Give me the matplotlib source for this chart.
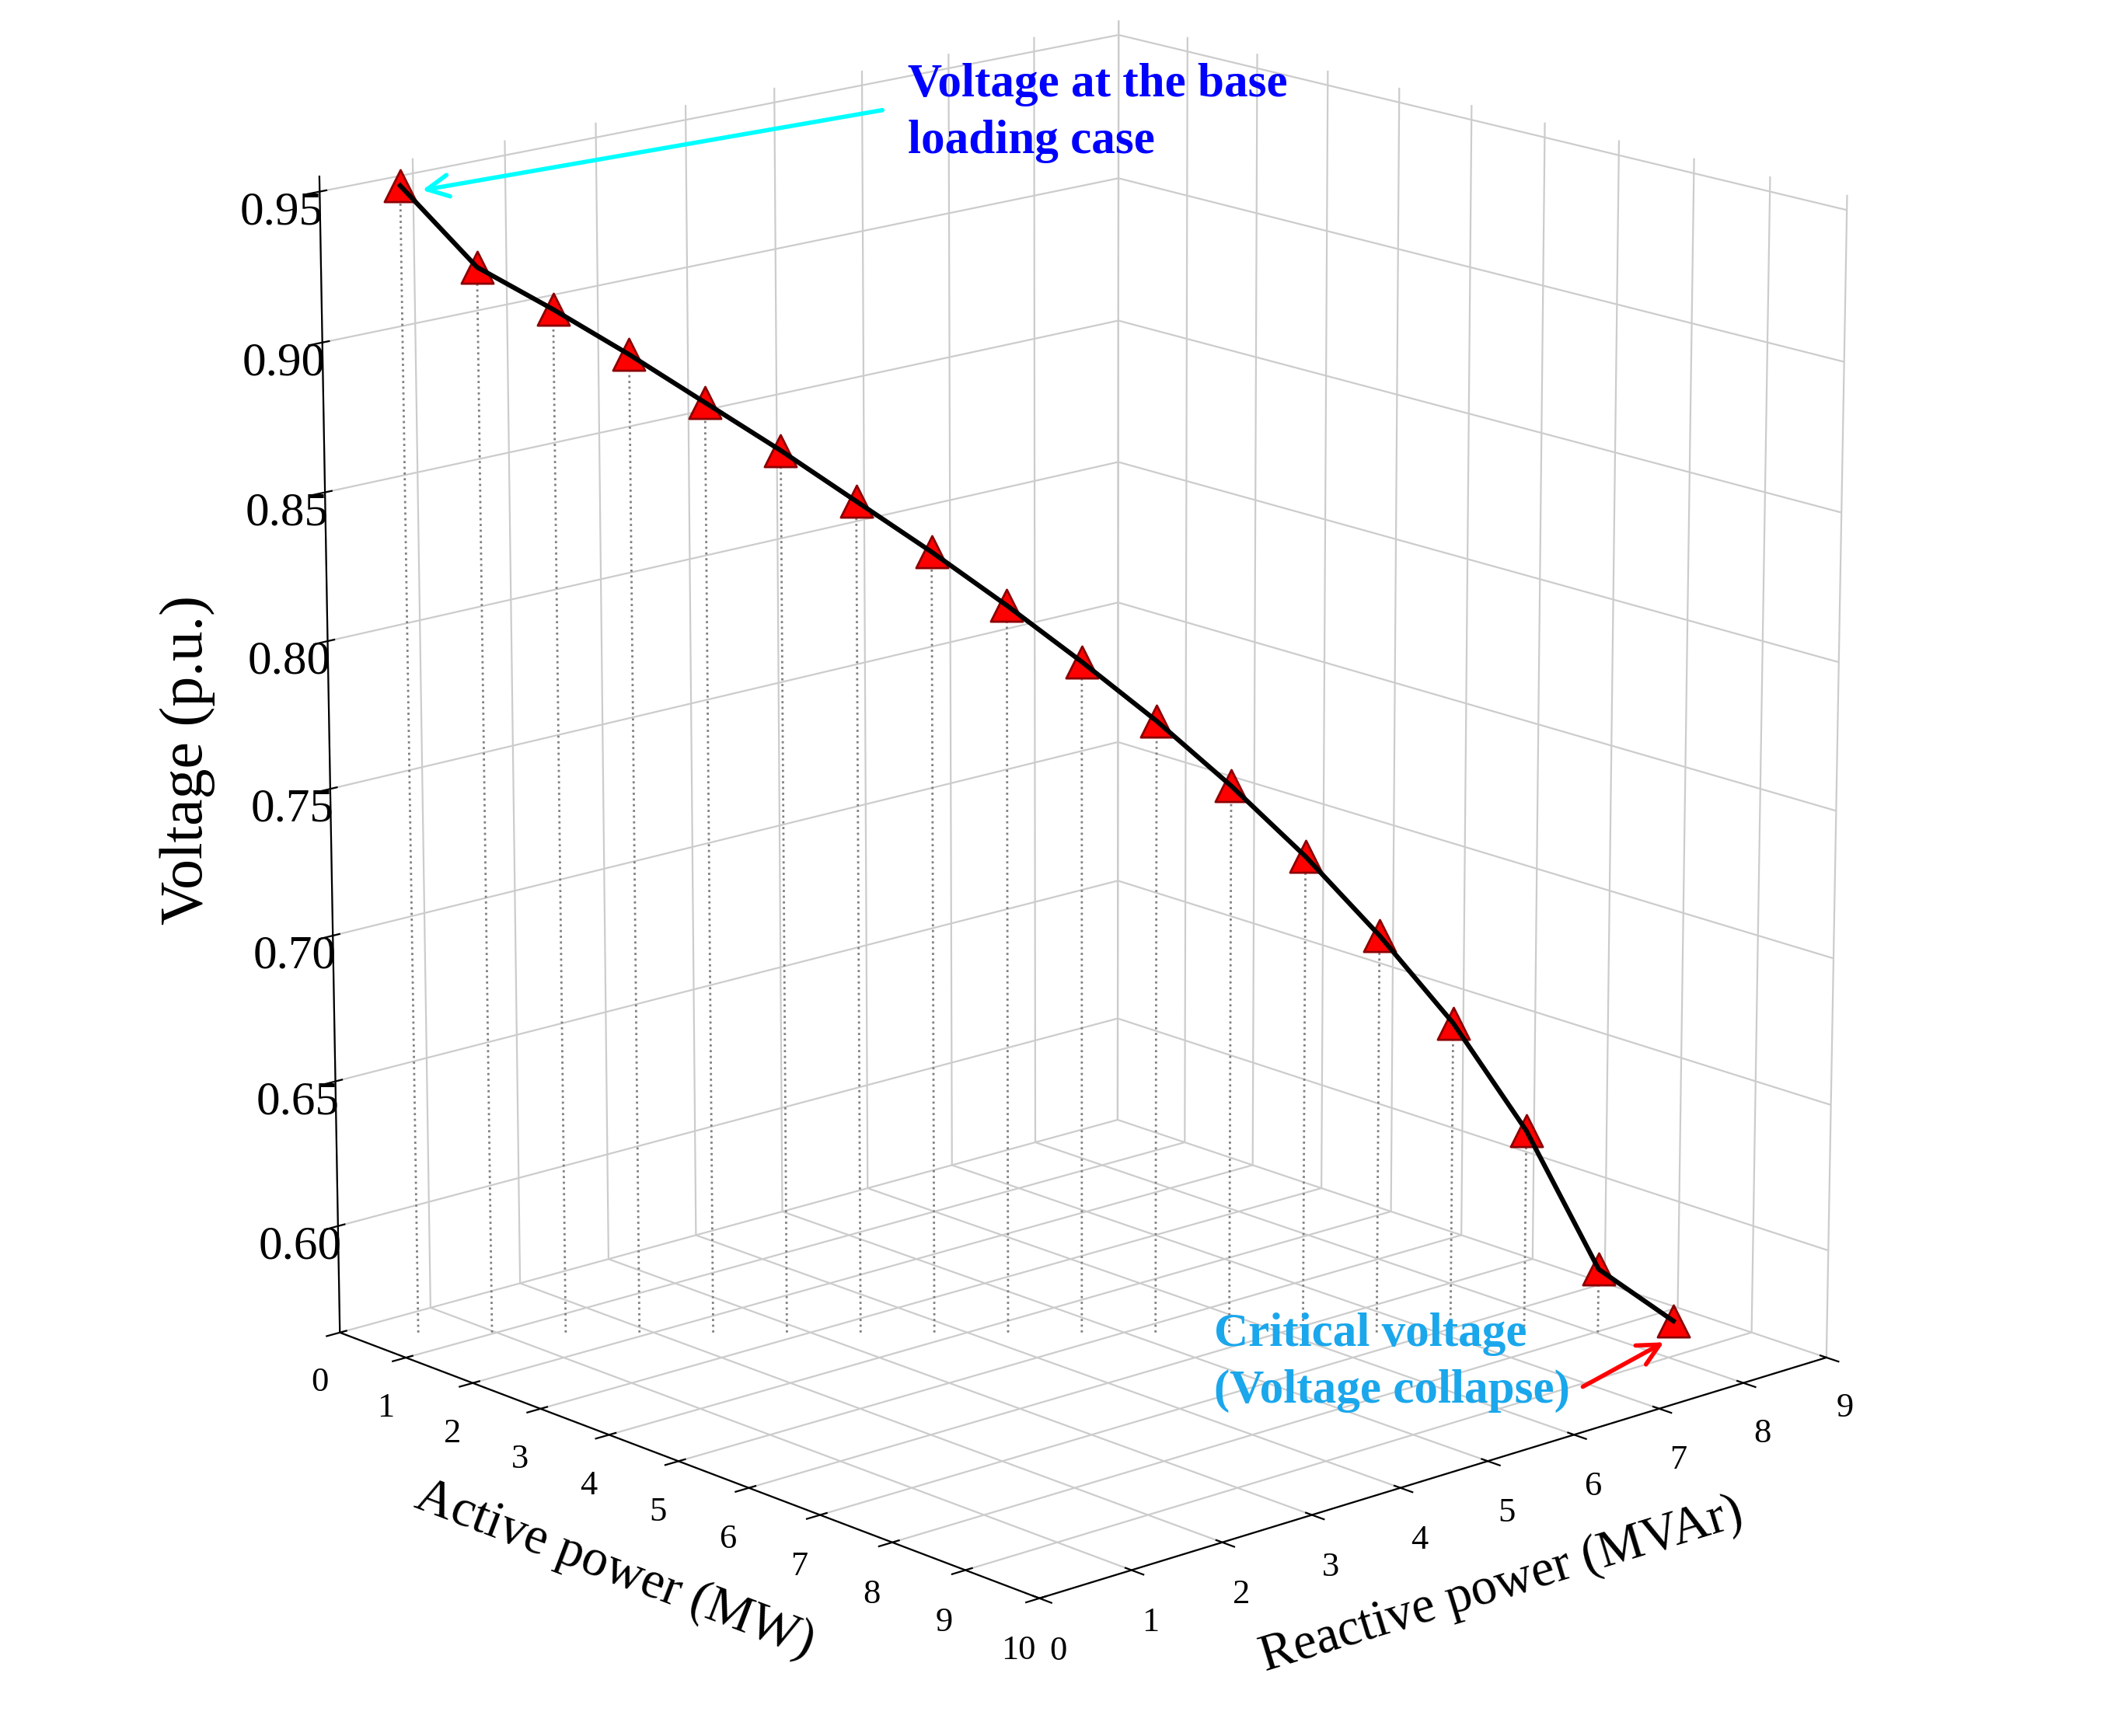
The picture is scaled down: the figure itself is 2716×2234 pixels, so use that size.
import matplotlib
matplotlib.use("Agg")
import matplotlib.pyplot as plt
from matplotlib.patches import FancyArrowPatch
import numpy as np

P = [0.5, 0.97, 1.44, 1.91, 2.38, 2.85, 3.32, 3.79, 4.26, 4.73, 5.2, 5.67, 6.14, 6.61, 7.08, 7.55, 8.02, 8.5]
Q = [0.5, 0.97, 1.44, 1.91, 2.38, 2.85, 3.32, 3.79, 4.26, 4.73, 5.2, 5.67, 6.14, 6.61, 7.08, 7.55, 8.02, 8.5]
V = [0.952, 0.925, 0.911, 0.896, 0.880, 0.864, 0.847, 0.830, 0.812, 0.793,
     0.773, 0.751, 0.727, 0.700, 0.670, 0.633, 0.585, 0.567]
zmin = 0.563

plt.rcParams['font.family'] = ['Liberation Serif', 'DejaVu Serif']
fig = plt.figure(figsize=(13.58, 11.17), dpi=200)
ax = fig.add_axes([-0.1, 0.0, 1.2, 1.08], projection='3d')
ax.set_proj_type('persp', focal_length=1.2)
ax.view_init(elev=16, azim=-42)
ax.set_box_aspect((1.15, 1.15, 1.3))

for p, q, v in zip(P, Q, V):
    ax.plot([p, p], [q, q], [zmin, v], color='gray', ls=':', lw=1)
ax.plot(P, Q, V, color='black', lw=2.2, zorder=5)
ax.scatter(P, Q, V, marker='^', s=220, color='red', edgecolors='darkred', depthshade=False, zorder=6)

ax.set_xlim(0, 10); ax.set_ylim(0, 9); ax.set_zlim(zmin, 0.955)
ax.set_xticks(range(0, 11)); ax.set_yticks(range(0, 10))
ax.set_zticks([0.60, 0.65, 0.70, 0.75, 0.80, 0.85, 0.90, 0.95])
ax.set_zticklabels(['0.60', '0.65', '0.70', '0.75', '0.80', '0.85', '0.90', '0.95'], fontsize=22)
ax.tick_params(axis='x', labelsize=16)
ax.tick_params(axis='y', labelsize=16)
ax.zaxis.set_ticks_position('lower')
ax.zaxis.set_label_position('lower')
for a in (ax.xaxis, ax.yaxis, ax.zaxis):
    a.set_pane_color((1, 1, 1, 1))
    a._axinfo['grid']['color'] = (0.8, 0.8, 0.8, 1)
    a._axinfo['grid']['linewidth'] = 0.8
ax.set_xlabel('Active power (MW)', fontsize=24, labelpad=14)
ax.set_ylabel('Reactive power (MVAr)', fontsize=24, labelpad=14)
ax.zaxis.set_rotate_label(False)
ax.set_zlabel('Voltage (p.u.)', fontsize=28, labelpad=22, rotation=90)

fig.text(0.43, 0.935, 'Voltage at the base\nloading case', color='blue', fontsize=22,
         fontweight='bold', ha='left', va='center', linespacing=1.4)
fig.add_artist(FancyArrowPatch((0.42, 0.937), (0.198, 0.89), transform=fig.transFigure,
               arrowstyle='->', mutation_scale=25, color='cyan', lw=2))
fig.text(0.575, 0.215, 'Critical voltage\n(Voltage collapse)', color='#1aa7ec', fontsize=22,
         fontweight='bold', ha='left', va='center', linespacing=1.4)
fig.add_artist(FancyArrowPatch((0.748, 0.2), (0.79, 0.228), transform=fig.transFigure,
               arrowstyle='->', mutation_scale=25, color='red', lw=2))
fig.savefig('out.png', dpi=200)
